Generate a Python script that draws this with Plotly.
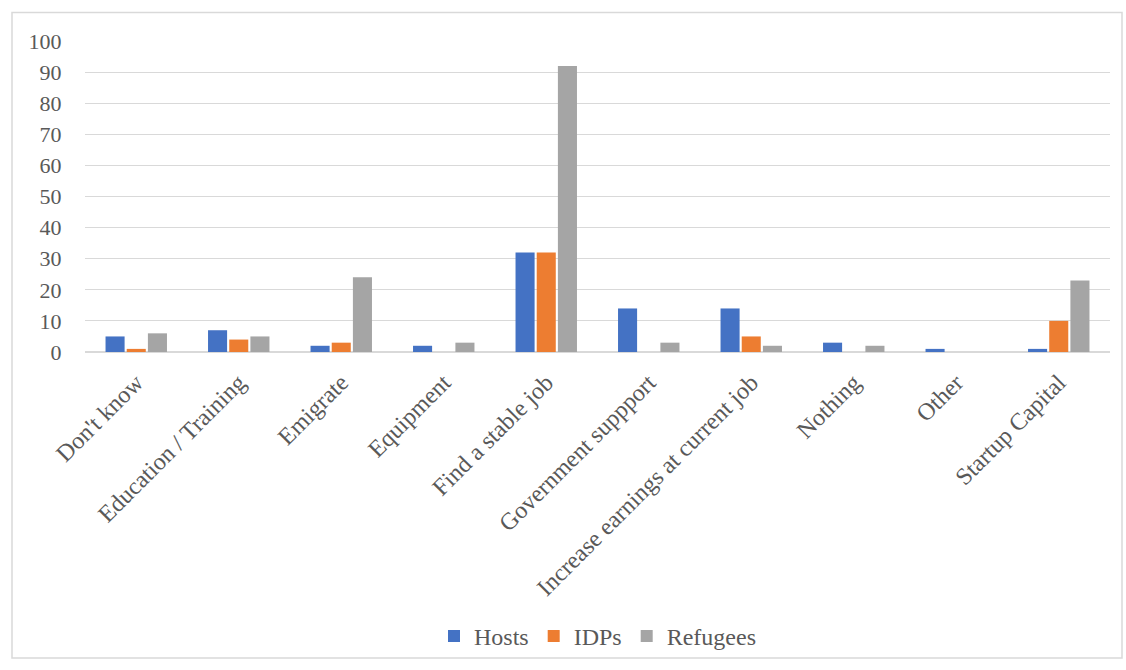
import plotly.graph_objects as go

categories = ["Don't know", "Education / Training", "Emigrate", "Equipment", "Find a stable job",
              "Government suppport", "Increase earnings at current job", "Nothing", "Other", "Startup Capital"]
hosts = [5, 7, 2, 2, 32, 14, 14, 3, 1, 1]
idps = [1, 4, 3, 0, 32, 0, 5, 0, 0, 10]
refugees = [6, 5, 24, 3, 92, 3, 2, 2, 0, 23]
y_ticks = list(range(0, 101, 10))

W, H = 1126, 670
L, T = 85, 41
plot_right, plot_bottom = 1110, 357
R = W - plot_right
B = H - plot_bottom
pw, ph = W - L - R, H - T - B

fig = go.Figure()
for name, vals, col in [("Hosts", hosts, "#4472C4"), ("IDPs", idps, "#ED7D31"), ("Refugees", refugees, "#A5A5A5")]:
    fig.add_trace(go.Bar(x=categories, y=vals, name=name, marker_color=col, marker_line_width=0))

font = "Liberation Serif, Times New Roman, serif"
fig.update_layout(
    width=W, height=H,
    margin=dict(l=L, r=R, t=T, b=B),
    paper_bgcolor="white", plot_bgcolor="white",
    barmode="group", bargap=0.38, bargroupgap=0.1,
    font=dict(family=font, color="#595959", size=22),
    showlegend=True,
    legend=dict(orientation="h", x=0.5, xanchor="center", y=(plot_bottom - 646) / ph, yanchor="middle",
                font=dict(size=24, color="#595959"), itemwidth=30, traceorder="normal",
                bgcolor="rgba(0,0,0,0)"),
    xaxis=dict(tickangle=-45, tickfont=dict(size=24, color="#595959"), showgrid=False,
               showline=True, linecolor="#d9d9d9", linewidth=1, ticks="outside", ticklen=6,
               tickcolor="rgba(0,0,0,0)"),
    yaxis=dict(range=[0, 100], tickvals=y_ticks, showgrid=True, gridcolor="#d9d9d9", gridwidth=1,
               zeroline=True, zerolinecolor="#d9d9d9", ticks="outside", ticklen=18,
               tickcolor="rgba(0,0,0,0)", tickfont=dict(size=22, color="#595959")),
    shapes=[dict(type="rect", xref="paper", yref="paper",
                 x0=(12 - L) / pw, x1=(1122 - L) / pw,
                 y0=(plot_bottom - 668) / ph, y1=(plot_bottom - 12) / ph,
                 line=dict(color="#d9d9d9", width=1.5), fillcolor="rgba(0,0,0,0)", layer="below")],
)
fig.write_html("out.html", config={"displayModeBar": False},
               post_script="document.body.style.margin='0';document.body.style.overflow='hidden';")
